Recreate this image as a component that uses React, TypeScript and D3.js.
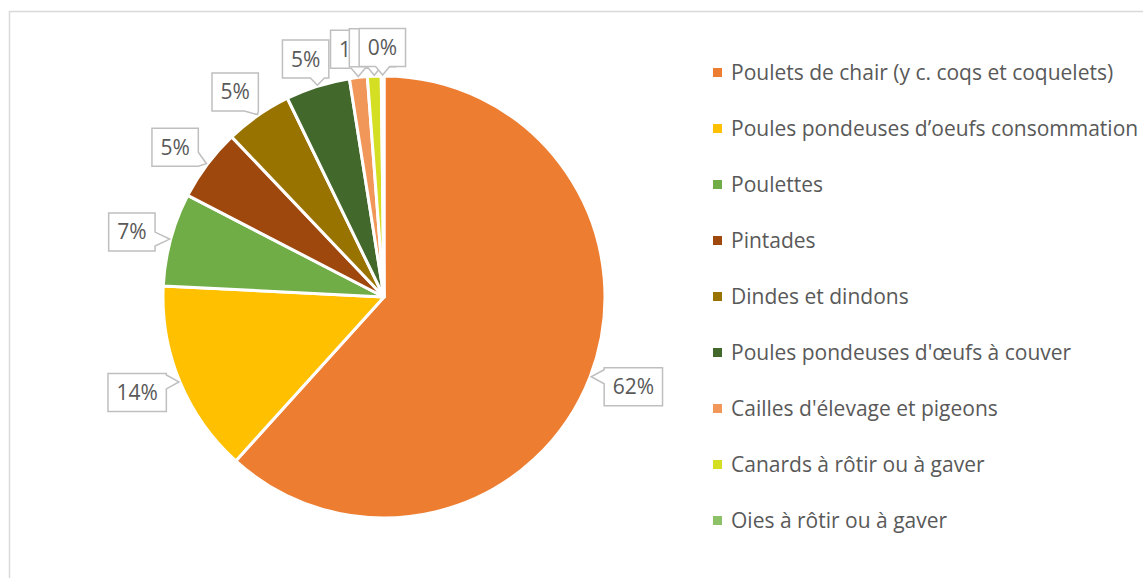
import * as React from 'react'
import { useEffect, useRef } from 'react'
import * as d3 from 'd3'

const categories = [
  'Poulets de chair (y c. coqs et coquelets)',
  'Poules pondeuses d’oeufs consommation',
  'Poulettes',
  'Pintades',
  'Dindes et dindons',
  "Poules pondeuses d'œufs à couver",
  "Cailles d'élevage et pigeons",
  'Canards à rôtir ou à gaver',
  'Oies à rôtir ou à gaver',
]
const shares = [61.7, 14.1, 6.8, 5.3, 4.9, 4.7, 1.3, 1.0, 0.2]
const colors = ['#ED7D31', '#FFC000', '#70AD47', '#9E480E', '#997300', '#43682B', '#F1975A', '#D4DE23', '#8CC168']

const WIDTH = 1143
const HEIGHT = 578
const FONT = '"Open Sans", Lato, sans-serif'
const TEXT = '#595959'

function calloutPath(x0: number, y0: number, x1: number, y1: number, tx: number, ty: number) {
  const hw = 7
  const dxOut = tx < x0 ? x0 - tx : tx > x1 ? tx - x1 : 0
  const dyOut = ty < y0 ? y0 - ty : ty > y1 ? ty - y1 : 0
  const clamp = (v: number, a: number, b: number) => Math.max(a + hw, Math.min(b - hw, v))
  const p: [number, number][] = []
  p.push([x0, y0])
  if (dyOut > dxOut && ty < y0) {
    const c = clamp(tx, x0, x1)
    p.push([c - hw, y0], [tx, ty], [c + hw, y0])
  }
  p.push([x1, y0])
  if (dxOut >= dyOut && tx > x1) {
    const c = clamp(ty, y0, y1)
    p.push([x1, c - hw], [tx, ty], [x1, c + hw])
  }
  p.push([x1, y1])
  if (dyOut > dxOut && ty > y1) {
    const c = clamp(tx, x0, x1)
    p.push([c + hw, y1], [tx, ty], [c - hw, y1])
  }
  p.push([x0, y1])
  if (dxOut >= dyOut && tx < x0) {
    const c = clamp(ty, y0, y1)
    p.push([x0, c + hw], [tx, ty], [x0, c - hw])
  }
  return 'M' + p.map((d) => d.join(',')).join('L') + 'Z'
}

export default function App() {
  const ref = useRef<SVGSVGElement>(null)

  useEffect(() => {
    document.body.style.margin = '0'
    const svg = d3.select(ref.current)
    svg.selectAll('*').remove()

    // chart frame (right and bottom edges fall outside the picture)
    svg
      .append('rect')
      .attr('x', 9.5)
      .attr('y', 11.5)
      .attr('width', WIDTH)
      .attr('height', HEIGHT)
      .attr('fill', '#fff')
      .attr('stroke', '#d9d9d9')
      .attr('stroke-width', 1.5)

    const cx = 384
    const cy = 297
    const r = 221

    const pie = d3.pie<number>().sort(null).value((d) => d)
    const arcs = pie(shares)
    const arc = d3.arc<d3.PieArcDatum<number>>().innerRadius(0).outerRadius(r)

    const g = svg.append('g').attr('transform', `translate(${cx},${cy})`)

    g.selectAll('path.slice')
      .data(arcs)
      .enter()
      .append('path')
      .attr('class', 'slice')
      .attr('d', arc)
      .attr('fill', (d, i) => colors[i])
      .attr('stroke', '#fff')
      .attr('stroke-width', 3)
      .attr('stroke-linejoin', 'round')

    // data labels with callout boxes, pushed out from the rim
    const padX = 8.5
    const boxH = 38
    const gapX = 16
    const gapY = 8.5
    arcs.forEach((d, i) => {
      const mid = (d.startAngle + d.endAngle) / 2
      const ux = Math.sin(mid)
      const uy = -Math.cos(mid)
      const tx = ux * (r + 1)
      const ty = uy * (r + 1)
      const lg = g.append('g')
      const box = lg.append('path')
      const text = lg
        .append('text')
        .attr('text-anchor', 'middle')
        .attr('font-family', FONT)
        .attr('font-size', 21)
        .attr('fill', TEXT)
        .text(`${Math.round(shares[i])}%`)
      const tw = (text.node() as SVGTextElement).getComputedTextLength()
      const w = tw + padX * 2
      const bx = tx + ux * (w / 2 + gapX)
      const by = ty + uy * (boxH / 2 + gapY)
      text.attr('x', bx).attr('y', by + 7.5)
      box
        .attr('d', calloutPath(bx - w / 2, by - boxH / 2, bx + w / 2, by + boxH / 2, tx, ty))
        .attr('fill', '#fff')
        .attr('stroke', '#BFBFBF')
        .attr('stroke-width', 1.5)
    })

    // legend
    const legendY = d3.scalePoint<string>().domain(categories).range([72, 520])
    const legend = svg.append('g')
    const items = legend
      .selectAll('g.item')
      .data(categories)
      .enter()
      .append('g')
      .attr('class', 'item')
      .attr('transform', (d) => `translate(713,${legendY(d)})`)
    items
      .append('rect')
      .attr('x', 0)
      .attr('y', -4)
      .attr('width', 9)
      .attr('height', 9)
      .attr('fill', (d, i) => colors[i])
    items
      .append('text')
      .attr('x', 18)
      .attr('y', 7.5)
      .attr('font-family', FONT)
      .attr('font-size', 21)
      .attr('fill', TEXT)
      .text((d) => d)
  }, [])

  return <svg ref={ref} width={WIDTH} height={HEIGHT} style={{ display: 'block' }} />
}
